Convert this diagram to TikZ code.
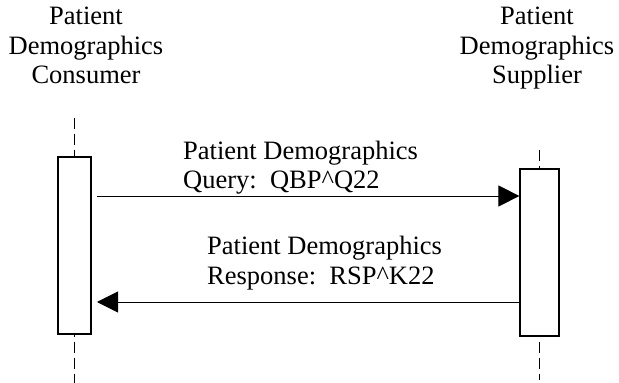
\documentclass[tikz,border=0pt]{standalone}
\usepackage{fontspec}
\setmainfont{Liberation Serif}
\usetikzlibrary{arrows.meta,positioning}

\begin{document}
\begin{tikzpicture}[x=1pt, y=1pt,
    every node/.style={font=\fontsize{26.5}{29.5}\selectfont, inner sep=0pt},
    actbox/.style={draw, line width=1.2pt, fill=white},
    lifeline/.style={line width=1.3pt, dash pattern=on 11pt off 5pt},
    msg/.style={line width=0.9pt, -{Triangle[length=21pt,width=21pt]}}]
    \useasboundingbox (0,0) rectangle (619,383);
    % actors
    \node[align=center, anchor=north] (cons) at (86,376) {Patient\\Demographics\\Consumer};
    \node[align=center, anchor=north] (supp) at (537,376) {Patient\\Demographics\\Supplier};
    % lifelines
    \coordinate (ctop) at (74.5,265);
    \coordinate (cbot) at (74.5,0);
    \coordinate (stop) at (539.5,233);
    \coordinate (sbot) at (539.5,3);
    \draw[lifeline] (ctop) -- (cbot);
    \draw[lifeline] (stop) -- (sbot);
    % activation boxes
    \node[actbox, minimum width=33pt, minimum height=177pt] (cact) at (74.5,137.5) {};
    \node[actbox, minimum width=39pt, minimum height=167pt] (sact) at (539.5,130.5) {};
    % messages
    \coordinate (qstart) at (97,187);
    \coordinate (rend) at (97,81);
    \draw[msg] (qstart) -- (qstart -| sact.west);
    \draw[msg] (rend -| sact.west) -- (rend);
    \node[align=left, anchor=north west] (qlbl) at (183,242.5) {Patient Demographics\\Query:\ \ QBP\^{}Q22};
    \node[align=left, anchor=north west] (rlbl) at (207,147) {Patient Demographics\\Response:\ \ RSP\^{}K22};
\end{tikzpicture}
\end{document}
